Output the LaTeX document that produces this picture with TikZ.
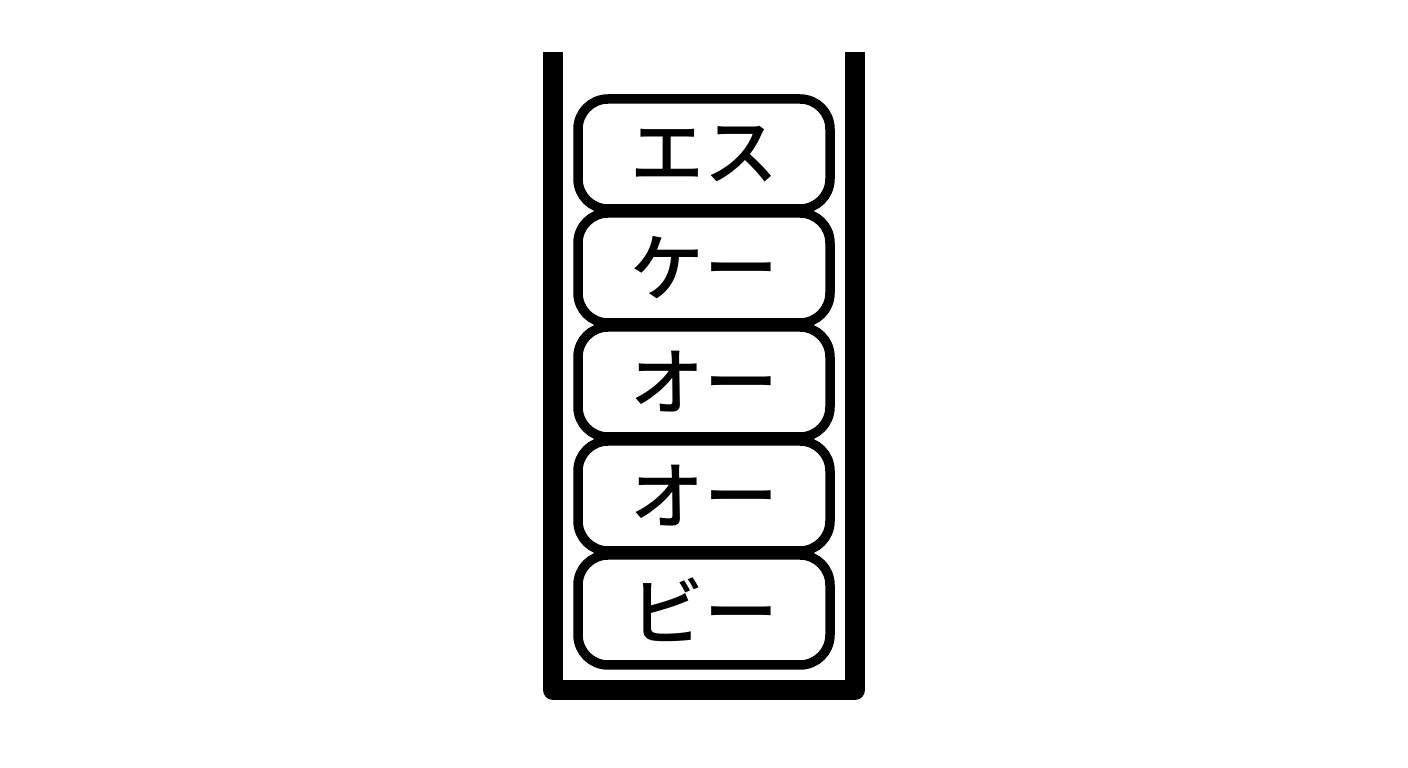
\documentclass[tikz,border=0pt]{standalone}
\usepackage{fontspec}
\usepackage{tikz}
\newfontfamily\jp{Noto Sans CJK JP Medium}

\begin{document}
\begin{tikzpicture}[blok/.style={draw, fill=white, line width=0.095cm, rounded corners=0.3cm,
                     minimum width=2.52cm, minimum height=1.10cm, inner sep=0pt,
                     font=\jp\fontsize{21}{24}\selectfont}]
   \useasboundingbox (0, 0) rectangle (14.08, 7.68);
   \draw [line width=0.2cm, line join=round] (5.53, 7.16) -- (5.53, 0.78) -- (8.55, 0.78) -- (8.55, 7.16);
   \node [blok] (s) at (7.04, 6.14) {エス};
   \node [blok] (k) at (7.04, 5.00) {ケー};
   \node [blok] (o) at (7.04, 3.86) {オー};
   \node [blok] (p) at (7.04, 2.72) {オー};
   \node [blok] (b) at (7.04, 1.58) {ビー};
\end{tikzpicture}
\end{document}
